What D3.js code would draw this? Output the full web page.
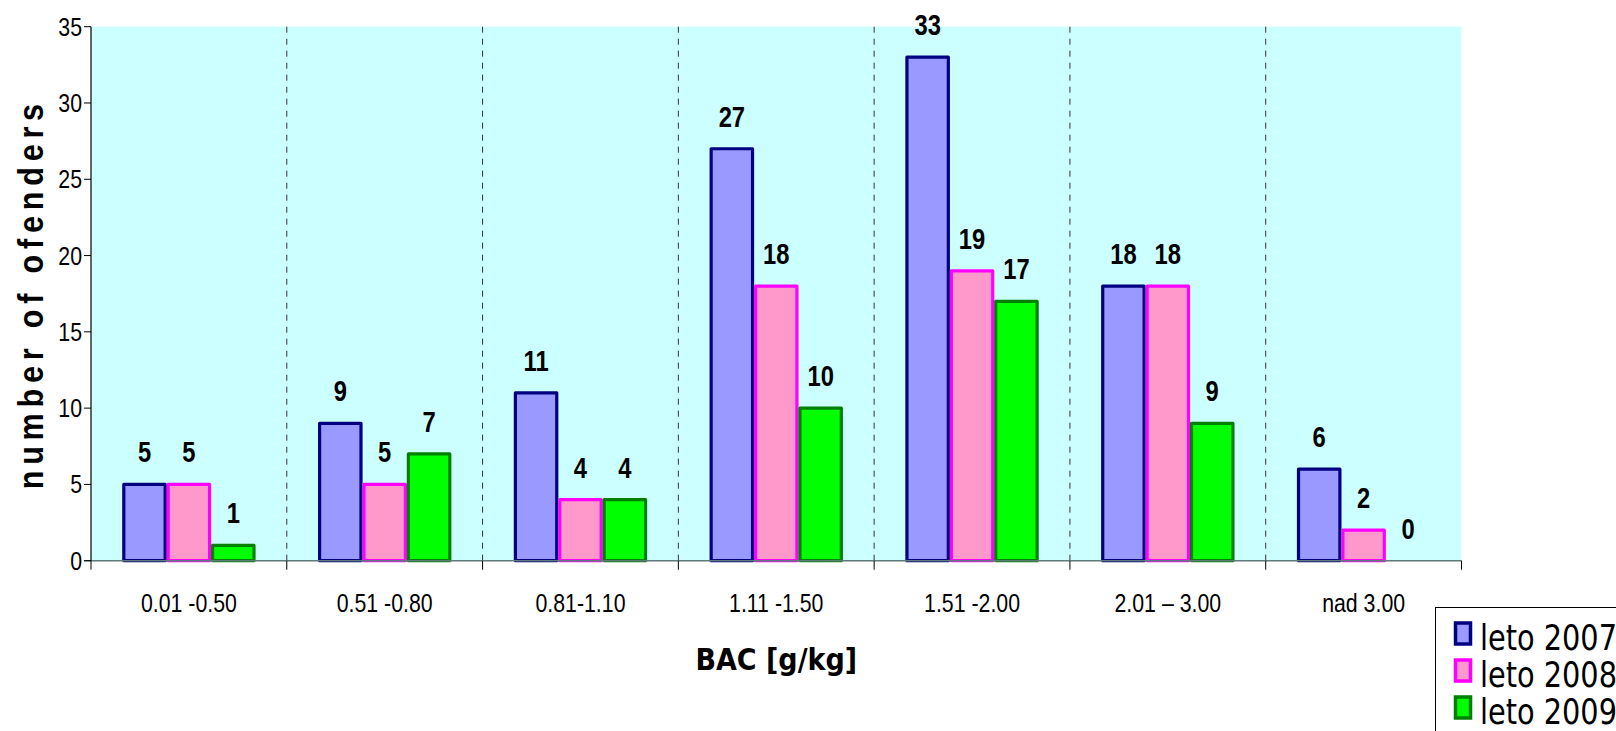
<!DOCTYPE html>
<html>
<head>
<meta charset="utf-8">
<script src="https://cdn.jsdelivr.net/npm/d3@7"></script>
<style>
  html, body { margin: 0; padding: 0; background: #ffffff; }
  svg { display: block; }
</style>
</head>
<body>
<svg id="chart" width="1616" height="731"></svg>
<script>
// BAC ranges (g/kg) and offender counts per summer
const categories = ["0.01 -0.50", "0.51 -0.80", "0.81-1.10", "1.11 -1.50", "1.51 -2.00", "2.01 \u2013 3.00", "nad 3.00"];
const seriesNames = ["leto 2007", "leto 2008", "leto 2009"];
const leto2007 = [5, 9, 11, 27, 33, 18, 6];
const leto2008 = [5, 5, 4, 18, 19, 18, 2];
const leto2009 = [1, 7, 4, 10, 17, 9, 0];
const yTicks = [0, 5, 10, 15, 20, 25, 30, 35];

const seriesValues = [leto2007, leto2008, leto2009];
const fills = ["#9999ff", "#ff99cc", "#00ff00"];
const strokes = ["#000080", "#ff00ff", "#008000"];

const svg = d3.select("#chart");
const plot = { left: 91, right: 1461.5, top: 26.7, bottom: 560.7 };

const x0 = d3.scaleBand().domain(categories).range([plot.left, plot.right]).paddingInner(0).paddingOuter(0);
const x1 = d3.scaleBand().domain(seriesNames).range([0, x0.bandwidth()]).paddingInner(0).paddingOuter(0.705);
const y = d3.scaleLinear().domain([0, 35]).range([plot.bottom, plot.top]);

// plot area background
svg.append("rect")
  .attr("x", plot.left).attr("y", plot.top)
  .attr("width", plot.right - plot.left).attr("height", plot.bottom - plot.top)
  .attr("fill", "#ccffff");

// dashed separators between the ranges
const bounds = categories.map(c => x0(c)).concat([plot.right]);
svg.append("g").selectAll("line")
  .data(bounds.slice(1, -1))
  .join("line")
  .attr("x1", d => d).attr("x2", d => d)
  .attr("y1", plot.top).attr("y2", plot.bottom)
  .attr("stroke", "#333333").attr("stroke-width", 1)
  .attr("stroke-dasharray", "6,6");

// grouped bars
const rows = categories.map((c, i) => ({ c, vals: seriesValues.map((s, k) => ({ k, name: seriesNames[k], v: s[i] })) }));
const groups = svg.append("g").selectAll("g")
  .data(rows)
  .join("g")
  .attr("transform", d => `translate(${x0(d.c)},0)`);

groups.selectAll("rect")
  .data(d => d.vals)
  .join("rect")
  .attr("x", d => x1(d.name) + 1.5)
  .attr("width", x1.bandwidth() - 3)
  .attr("y", d => y(d.v))
  .attr("height", d => y(0) - y(d.v))
  .attr("fill", d => fills[d.k])
  .attr("stroke", d => strokes[d.k])
  .attr("stroke-opacity", d => d.v > 0 ? 1 : 0)
  .attr("stroke-width", 3.2)
  .attr("stroke-linejoin", "round");

// value labels above bars
groups.selectAll("text")
  .data(d => d.vals)
  .join("text")
  .attr("transform", d => `translate(${x1(d.name) + x1.bandwidth() / 2},${y(d.v) - 22}) scale(0.82,1)`)
  .attr("text-anchor", "middle")
  .attr("font-family", "'Liberation Sans', Arial, sans-serif")
  .attr("font-weight", "bold")
  .attr("font-size", 29)
  .attr("fill", "#000")
  .text(d => d.v);

// category axis line
svg.append("line")
  .attr("x1", plot.left - 7).attr("x2", plot.right)
  .attr("y1", plot.bottom).attr("y2", plot.bottom)
  .attr("stroke", "#5f7a7a").attr("stroke-width", 1.5);

// category tick marks
svg.append("g").selectAll("line")
  .data(bounds)
  .join("line")
  .attr("x1", d => d).attr("x2", d => d)
  .attr("y1", plot.bottom).attr("y2", plot.bottom + 9)
  .attr("stroke", "#000").attr("stroke-width", 1);

// value axis
svg.append("line")
  .attr("x1", plot.left).attr("x2", plot.left)
  .attr("y1", plot.top).attr("y2", plot.bottom)
  .attr("stroke", "#000").attr("stroke-width", 1.2);

svg.append("g").selectAll("line")
  .data(yTicks)
  .join("line")
  .attr("x1", plot.left - 7).attr("x2", plot.left)
  .attr("y1", d => y(d)).attr("y2", d => y(d))
  .attr("stroke", "#000").attr("stroke-width", 1);

svg.append("g").selectAll("text")
  .data(yTicks)
  .join("text")
  .attr("transform", d => `translate(82,${y(d) + 9}) scale(0.82,1)`)
  .attr("text-anchor", "end")
  .attr("font-family", "'Liberation Sans', Arial, sans-serif")
  .attr("font-size", 26)
  .attr("fill", "#000")
  .text(d => d);

// category labels
svg.append("g").selectAll("text")
  .data(categories)
  .join("text")
  .attr("transform", d => `translate(${x0(d) + x0.bandwidth() / 2},612) scale(0.82,1)`)
  .attr("text-anchor", "middle")
  .attr("font-family", "'Liberation Sans', Arial, sans-serif")
  .attr("font-size", 26)
  .attr("fill", "#000")
  .text(d => d);

// axis titles
svg.append("text")
  .attr("transform", `translate(${(plot.left + plot.right) / 2},670) scale(0.9,1)`)
  .attr("text-anchor", "middle")
  .attr("font-family", "'DejaVu Sans', sans-serif")
  .attr("font-weight", "bold")
  .attr("font-size", 30)
  .attr("fill", "#000")
  .text("BAC [g/kg]");

svg.append("text")
  .attr("transform", `translate(43,${(plot.top + plot.bottom) / 2}) rotate(-90) scale(0.85,1)`)
  .attr("text-anchor", "middle")
  .attr("font-family", "'Liberation Sans', Arial, sans-serif")
  .attr("font-weight", "bold")
  .attr("font-size", 36)
  .attr("letter-spacing", 6.8)
  .attr("fill", "#000")
  .text("number of ofenders");

// legend
const legend = svg.append("g");
legend.append("rect")
  .attr("x", 1435.5).attr("y", 607.5)
  .attr("width", 200).attr("height", 140)
  .attr("fill", "#fff").attr("stroke", "#000").attr("stroke-width", 1);

const items = legend.selectAll("g")
  .data(seriesNames)
  .join("g")
  .attr("transform", (d, i) => `translate(0,${i * 37})`);

items.append("rect")
  .attr("x", 1455.5).attr("y", 623)
  .attr("width", 15).attr("height", 21)
  .attr("fill", (d, i) => fills[i])
  .attr("stroke", (d, i) => strokes[i])
  .attr("stroke-width", 3.5);

items.append("text")
  .attr("transform", "translate(1480,650) scale(0.8,1)")
  .attr("font-family", "'DejaVu Sans', sans-serif")
  .attr("font-size", 36)
  .attr("fill", "#000")
  .text(d => d);
</script>
</body>
</html>
